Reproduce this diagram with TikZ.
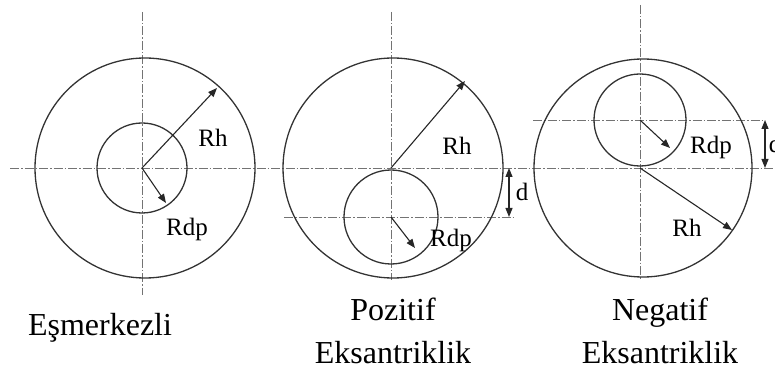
\documentclass[tikz,border=0pt]{standalone}
\usepackage{fontspec}
\setmainfont{Liberation Serif}
\usetikzlibrary{arrows.meta}
\tikzset{
  circ/.style={draw=black!80, line width=1.3pt},
  axisline/.style={draw=black!55, line width=0.9pt, dash pattern=on 9pt off 2pt on 1.5pt off 2pt},
  radarrow/.style={draw=black!85, line width=1.1pt, -{Triangle[length=9pt,width=7pt]}},
  dimarrow/.style={draw=black!85, line width=1.1pt, {Triangle[length=9pt,width=7pt]}-{Triangle[length=9pt,width=7pt]}},
  lbl/.style={font=\fontsize{25}{30}\selectfont, inner sep=0pt},
  captxt/.style={font=\fontsize{32}{40}\selectfont, inner sep=0pt, anchor=base}
}
\begin{document}
\begin{tikzpicture}[x=1pt,y=-1pt]
\useasboundingbox (0,0) rectangle (775,371);
% center lines
\coordinate (hL) at (10,168); \coordinate (hR) at (775,168);
\draw[axisline] (hL) -- (hR);
\coordinate (v1t) at (142,12);  \coordinate (v1b) at (142,295);
\coordinate (v2t) at (391,12);  \coordinate (v2b) at (391,280);
\coordinate (v3t) at (640,5);   \coordinate (v3b) at (640,280);
\draw[axisline] (v1t) -- (v1b);
\draw[axisline] (v2t) -- (v2b);
\draw[axisline] (v3t) -- (v3b);
\coordinate (h2L) at (284,217); \coordinate (h2R) at (513,217);
\draw[axisline] (h2L) -- (h2R);
\coordinate (h3L) at (533,120); \coordinate (h3R) at (765,120);
\draw[axisline] (h3L) -- (h3R);
% centers
\coordinate (c1) at (142,168);
\coordinate (c2) at (391,168);
\coordinate (c3) at (640,168);
\coordinate (i1) at (142,168);
\coordinate (i2) at (391,217);
\coordinate (i3) at (640,120);
% circles
\draw[circ] (145,168) circle[radius=110pt];
\draw[circ] (393,168) circle[radius=110pt];
\draw[circ] (643,168) circle[radius=109pt];
\draw[circ] (i1) circle[radius=45pt];
\draw[circ] (i2) circle[radius=47pt];
\draw[circ] (i3) circle[radius=46pt];
% radius arrows
\coordinate (rh1) at (217,88);
\coordinate (rd1) at (166,203);
\coordinate (rh2) at (465,81);
\coordinate (rd2) at (415,248);
\coordinate (rh3) at (732,230);
\coordinate (rd3) at (670,148);
\draw[radarrow] (c1) -- (rh1);
\draw[radarrow] (i1) -- (rd1);
\draw[radarrow] (c2) -- (rh2);
\draw[radarrow] (i2) -- (rd2);
\draw[radarrow] (c3) -- (rh3);
\draw[radarrow] (i3) -- (rd3);
% d dimensions
\coordinate (d2a) at (509,168); \coordinate (d2b) at (509,217);
\draw[dimarrow] (d2a) -- (d2b);
\coordinate (d3a) at (765,120); \coordinate (d3b) at (765,168);
\draw[dimarrow] (d3a) -- (d3b);
% labels
\node[lbl] (lrh1) at (213,138) {Rh};
\node[lbl] (lrd1) at (187,229) {Rdp};
\node[lbl] (lrh2) at (457,146) {Rh};
\node[lbl] (lrd2) at (451,240) {Rdp};
\node[lbl] (lrh3) at (687,228) {Rh};
\node[lbl] (lrd3) at (711,147) {Rdp};
\node[lbl] (ld2) at (522,192) {d};
\node[lbl] (ld3) at (775,144) {d};
% captions
\node[captxt] (cap1) at (100,335) {Eşmerkezli};
\node[captxt] (cap2a) at (393,320) {Pozitif};
\node[captxt] (cap2b) at (393,363) {Eksantriklik};
\node[captxt] (cap3a) at (660,320) {Negatif};
\node[captxt] (cap3b) at (660,363) {Eksantriklik};
\end{tikzpicture}
\end{document}
